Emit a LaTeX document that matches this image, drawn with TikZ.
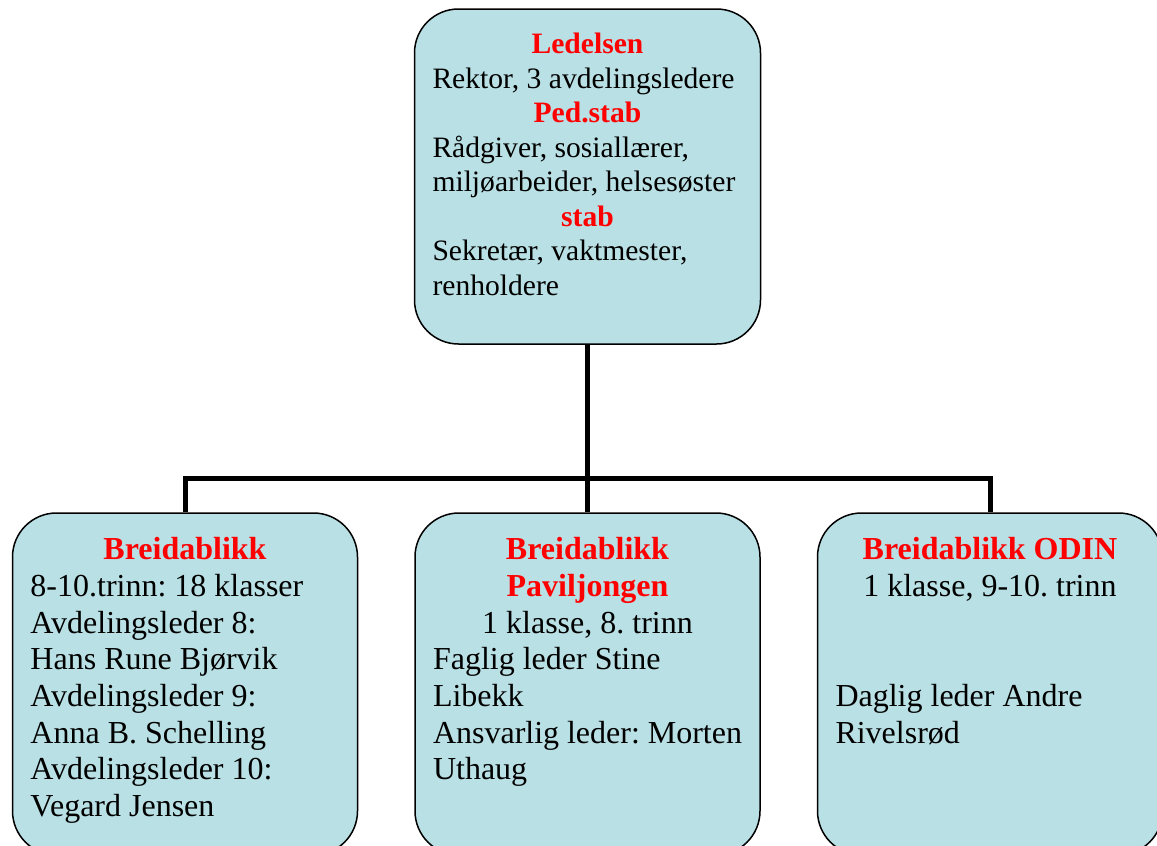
\documentclass[tikz,border=0pt]{standalone}
\usepackage{fontspec}
\setmainfont{Liberation Serif}
\usetikzlibrary{trees}
\definecolor{boxfill}{RGB}{185,224,228}
\frenchspacing
\newcommand\hd[1]{{\centering\bfseries\color{red}#1\par}}
\newcommand\ctr[1]{{\centering #1\par}}
\begin{document}
\begin{tikzpicture}[x=0.5pt, y=0.5pt,
  edge from parent/.style={draw, line width=2.5pt},
  edge from parent path={(\tikzparentnode.south) -- ++(0,-134) -| (\tikzchildnode.north)}]
\tikzstyle{level 1}=[level distance=253.75pt, sibling distance=201.25pt]
\tikzstyle{unit} = [draw, fill=boxfill, line width=0.75pt, rounded corners=22pt, inner xsep=9pt, inner ysep=12.2pt]
\tikzstyle{topunit} = [unit, inner ysep=12pt, font=\fontsize{14.8pt}{17.25pt}\selectfont]
\tikzstyle{subunit} = [unit, font=\fontsize{16pt}{18.35pt}\selectfont]

\useasboundingbox (0,0) rectangle (1157,-846);
\node[topunit] (ledelse) at (587.5,-176.5) {\parbox[c][143.5pt][t]{155pt}{\raggedright
  \hd{Ledelsen}
  Rektor, 3 avdelingsledere\endgraf
  \hd{Ped.stab}
  Rådgiver, sosiallærer,\\ miljøarbeider, helsesøster\endgraf
  \hd{stab}
  Sekretær, vaktmester,\\ renholdere}}
  child {node[subunit] (breid) {\parbox[c][146.6pt][t]{154.5pt}{\raggedright
    \hd{Breidablikk}
    8-10.trinn: 18 klasser\\ Avdelingsleder 8:\\ Hans Rune Bjørvik\\
    Avdelingsleder 9:\\ Anna B. Schelling\\ Avdelingsleder 10:\\ Vegard Jensen}}}
  child {node[subunit] (pavil) {\parbox[c][146.6pt][t]{154.5pt}{\raggedright
    \hd{Breidablikk\\ Paviljongen}
    \ctr{1 klasse, 8. trinn}
    Faglig leder Stine\\ Libekk\\ Ansvarlig leder: Morten\\ Uthaug}}}
  child {node[subunit] (odin) {\parbox[c][146.6pt][t]{154.5pt}{\raggedright
    \hd{Breidablikk ODIN}
    \ctr{1 klasse, 9-10. trinn}
    \mbox{}\\ \mbox{}\\
    Daglig leder Andre\\ Rivelsrød}}};
\end{tikzpicture}
\end{document}
